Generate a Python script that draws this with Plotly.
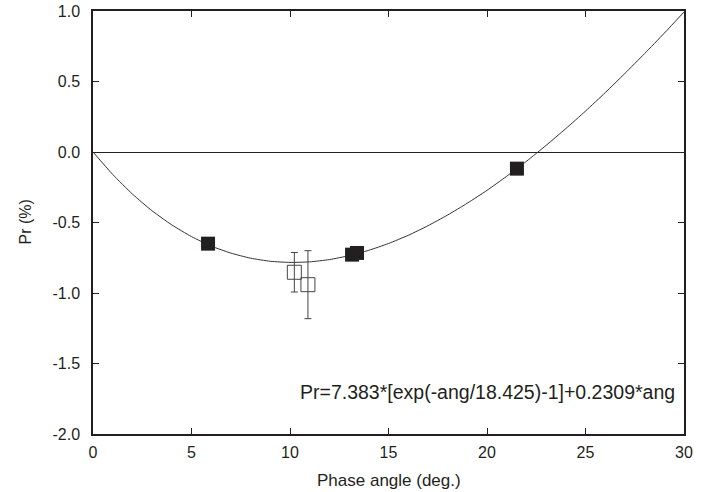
import plotly.graph_objects as go

# fitted curve (phase angle in deg., Pr in %)
fit_ang = [0, 1, 2, 3, 4, 5, 6, 7, 8, 9, 10, 11, 12, 13, 14, 15,
           16, 17, 18, 19, 20, 21, 22, 23, 24, 25, 26, 27, 28, 29, 30]
fit_pr = [0.0, -0.159, -0.298, -0.417, -0.517, -0.600, -0.667, -0.717,
          -0.753, -0.775, -0.783, -0.779, -0.763, -0.735, -0.697, -0.649,
          -0.591, -0.523, -0.447, -0.363, -0.272, -0.172, -0.066, 0.047,
          0.166, 0.290, 0.421, 0.557, 0.698, 0.843, 0.993]

# filled squares
filled_ang = [5.84, 13.15, 13.4, 21.52]
filled_pr = [-0.650, -0.728, -0.716, -0.118]

# open squares with error bars
open_ang = [10.22, 10.91]
open_pr = [-0.853, -0.941]
open_err = [0.140, 0.241]

x_ticks = [0, 5, 10, 15, 20, 25, 30]
y_ticks = [-2.0, -1.5, -1.0, -0.5, 0.0, 0.5, 1.0]
y_tick_labels = ["-2.0", "-1.5", "-1.0", "-0.5", "0.0", "0.5", "1.0"]

formula = "Pr=7.383*[exp(-ang/18.425)-1]+0.2309*ang"

ink = "#231f20"
font_family = "Liberation Sans, Arial, sans-serif"

fig = go.Figure()

fig.add_trace(go.Scatter(
    x=fit_ang, y=fit_pr,
    mode="lines",
    line=dict(color="#333333", width=1, shape="spline", smoothing=0.6),
    hoverinfo="skip",
))

fig.add_trace(go.Scatter(
    x=open_ang, y=open_pr,
    mode="markers",
    marker=dict(symbol="square-open", size=14, color="#444444",
                line=dict(width=1)),
    error_y=dict(type="data", array=open_err, visible=True,
                 color="#444444", thickness=1, width=3.5),
))

fig.add_trace(go.Scatter(
    x=filled_ang, y=filled_pr,
    mode="markers",
    marker=dict(symbol="square", size=14, color=ink),
))

axis_common = dict(
    showline=True, linecolor=ink, linewidth=1.5,
    mirror="ticks", ticks="inside", ticklen=6, tickwidth=1.2,
    tickcolor=ink, showgrid=False, automargin=False,
    tickfont=dict(size=16, color=ink, family=font_family),
)

fig.update_xaxes(
    range=[0, 30], tickvals=x_ticks, zeroline=False,
    ticklabelstandoff=3,
    **axis_common,
)
fig.update_yaxes(
    range=[-2, 1], tickvals=y_ticks, ticktext=y_tick_labels,
    zeroline=True, zerolinecolor=ink, zerolinewidth=1.2,
    ticklabelstandoff=8,
    **axis_common,
)

fig.update_layout(
    width=714, height=492,
    margin=dict(l=93, r=30, t=11, b=58),
    paper_bgcolor="white", plot_bgcolor="white",
    showlegend=False,
    font=dict(family=font_family, color=ink),
    annotations=[
        dict(text=formula, xref="paper", yref="paper", x=0.988, y=0.099,
             xanchor="right", yanchor="middle", showarrow=False,
             font=dict(size=19.5, color=ink)),
        dict(text="Phase angle (deg.)", xref="paper", yref="paper",
             x=0.5, y=-0.111, xanchor="center", yanchor="middle",
             showarrow=False, font=dict(size=17, color=ink)),
        dict(text="Pr (%)", xref="paper", yref="paper",
             x=-0.115, y=0.5, xanchor="center", yanchor="middle",
             textangle=-90, showarrow=False,
             font=dict(size=16, color=ink)),
    ],
)

# page body has a default 8px margin; drop it so the figure fills the window
fig.write_html("out.html", config={"displayModeBar": False},
               post_script="document.body.style.margin='0';")
